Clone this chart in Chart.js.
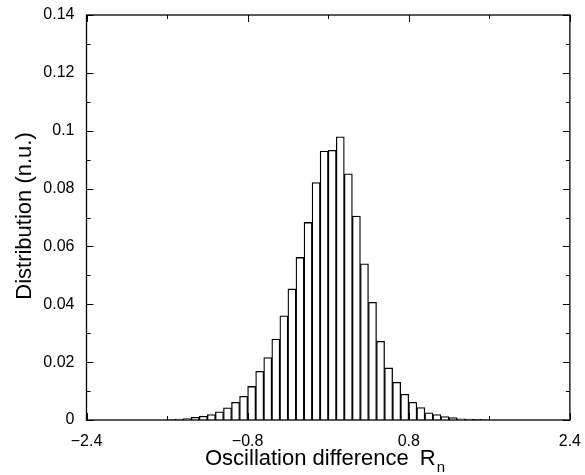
<!DOCTYPE html>
<html>
<head>
<meta charset="utf-8">
<script src="https://cdn.jsdelivr.net/npm/chart.js@4"></script>
<style>
  body { margin: 0; background: #fff; }
  #wrap { width: 585px; height: 475px; }
</style>
</head>
<body>
<div id="wrap"><canvas id="histo" width="585" height="475"></canvas></div>
<script>
// centres des classes (largeur 0.08)
const binCenters = [
  -1.56, -1.48, -1.40, -1.32, -1.24, -1.16, -1.08, -1.00, -0.92, -0.84,
  -0.76, -0.68, -0.60, -0.52, -0.44, -0.36, -0.28, -0.20, -0.12, -0.04,
  0.04, 0.12, 0.20, 0.28, 0.36, 0.44, 0.52, 0.60, 0.68, 0.76,
  0.84, 0.92, 1.00, 1.08, 1.16, 1.24, 1.32, 1.40, 1.48, 1.56,
];
const distribution = [
  0.0001, 0.0003, 0.0005, 0.0009, 0.0013, 0.0019, 0.0028, 0.0042, 0.0061, 0.0082,
  0.0116, 0.0168, 0.0216, 0.0280, 0.0360, 0.0453, 0.0562, 0.0683, 0.0821, 0.0930,
  0.0932, 0.0979, 0.0851, 0.0705, 0.0540, 0.0407, 0.0272, 0.0180, 0.0130, 0.0089,
  0.0061, 0.0043, 0.0025, 0.0019, 0.0012, 0.0008, 0.0004, 0.0003, 0.0002, 0.0001,
];
const xLabels = [-2.4, -0.8, 0.8, 2.4];
const xTicks = [-2.4, -1.6, -0.8, 0, 0.8, 1.6, 2.4];
const yTicks = [0, 0.01, 0.02, 0.03, 0.04, 0.05, 0.06, 0.07, 0.08, 0.09, 0.1, 0.11, 0.12, 0.13, 0.14];

const FONT = "'Liberation Sans', Arial, Helvetica, sans-serif";

// cadre, petites graduations vers l'intérieur, titres des axes
const framePlugin = {
  id: "frame",
  afterDraw: (chart) => {
    const { ctx, chartArea } = chart;
    const xs = chart.scales.x;
    const ys = chart.scales.y;
    const { left, right, top, bottom } = chartArea;
    ctx.save();
    ctx.strokeStyle = "#000";
    ctx.lineWidth = 1.3;
    ctx.strokeRect(left, top, right - left, bottom - top);

    ctx.lineWidth = 1;
    ctx.beginPath();
    xTicks.forEach((v) => {
      const px = Math.round(xs.getPixelForValue(v)) + 0.5;
      const len = xLabels.includes(v) ? 7 : 4;
      ctx.moveTo(px, bottom); ctx.lineTo(px, bottom - len);
      ctx.moveTo(px, top); ctx.lineTo(px, top + len);
    });
    yTicks.forEach((v, i) => {
      const py = Math.round(ys.getPixelForValue(v)) + 0.5;
      const len = i % 2 === 0 ? 7 : 4;
      ctx.moveTo(left, py); ctx.lineTo(left + len, py);
      ctx.moveTo(right, py); ctx.lineTo(right - len, py);
    });
    ctx.stroke();

    // titre axe x avec indice
    ctx.fillStyle = "#000";
    ctx.textBaseline = "alphabetic";
    ctx.textAlign = "left";
    ctx.font = "22px " + FONT;
    const main = "Oscillation difference";
    ctx.fillText(main, 205, 465);
    const rx = 205 + ctx.measureText(main).width + 11;
    ctx.fillText("R", rx, 465);
    const nx = rx + ctx.measureText("R").width + 1;
    ctx.font = "15px " + FONT;
    ctx.fillText("n", nx, 472);

    // titre axe y
    ctx.translate(31, 216);
    ctx.rotate(-Math.PI / 2);
    ctx.textAlign = "center";
    ctx.font = "22px " + FONT;
    ctx.fillText("Distribution (n.u.)", 0, 0);
    ctx.restore();
  },
};

new Chart(document.getElementById("histo").getContext("2d"), {
  type: "bar",
  data: {
    datasets: [
      {
        data: binCenters.map((c, i) => ({ x: c, y: distribution[i] })),
        backgroundColor: "#fff",
        borderColor: "#000",
        borderWidth: 1.3,
        barPercentage: 1,
        categoryPercentage: 1,
      },
    ],
  },
  options: {
    responsive: false,
    animation: false,
    layout: { padding: { top: 15, right: 11, left: 0, bottom: 0 } },
    scales: {
      x: {
        type: "linear",
        offset: false,
        min: -2.4,
        max: 2.4,
        grid: { display: false },
        border: { display: false },
        afterFit: (scale) => { scale.height = 55; },
        afterBuildTicks: (scale) => {
          scale.ticks = xLabels.map((v) => ({ value: v }));
        },
        ticks: {
          padding: 4,
          color: "#000",
          font: { family: FONT, size: 16 },
          maxRotation: 0,
          autoSkip: false,
          callback: (v) => (v < 0 ? "\u2212" + Math.abs(v).toFixed(1) : v.toFixed(1)),
        },
      },
      y: {
        min: 0,
        max: 0.14,
        grid: { display: false },
        border: { display: false },
        afterFit: (scale) => { scale.width = 86.5; },
        ticks: {
          stepSize: 0.02,
          padding: 4,
          color: "#000",
          font: { family: FONT, size: 16 },
          callback: (v) => (v === 0 ? "0" : String(parseFloat(v.toFixed(2)))),
        },
      },
    },
    plugins: {
      legend: { display: false },
      tooltip: { enabled: false },
    },
  },
  plugins: [framePlugin],
});
</script>
</body>
</html>
